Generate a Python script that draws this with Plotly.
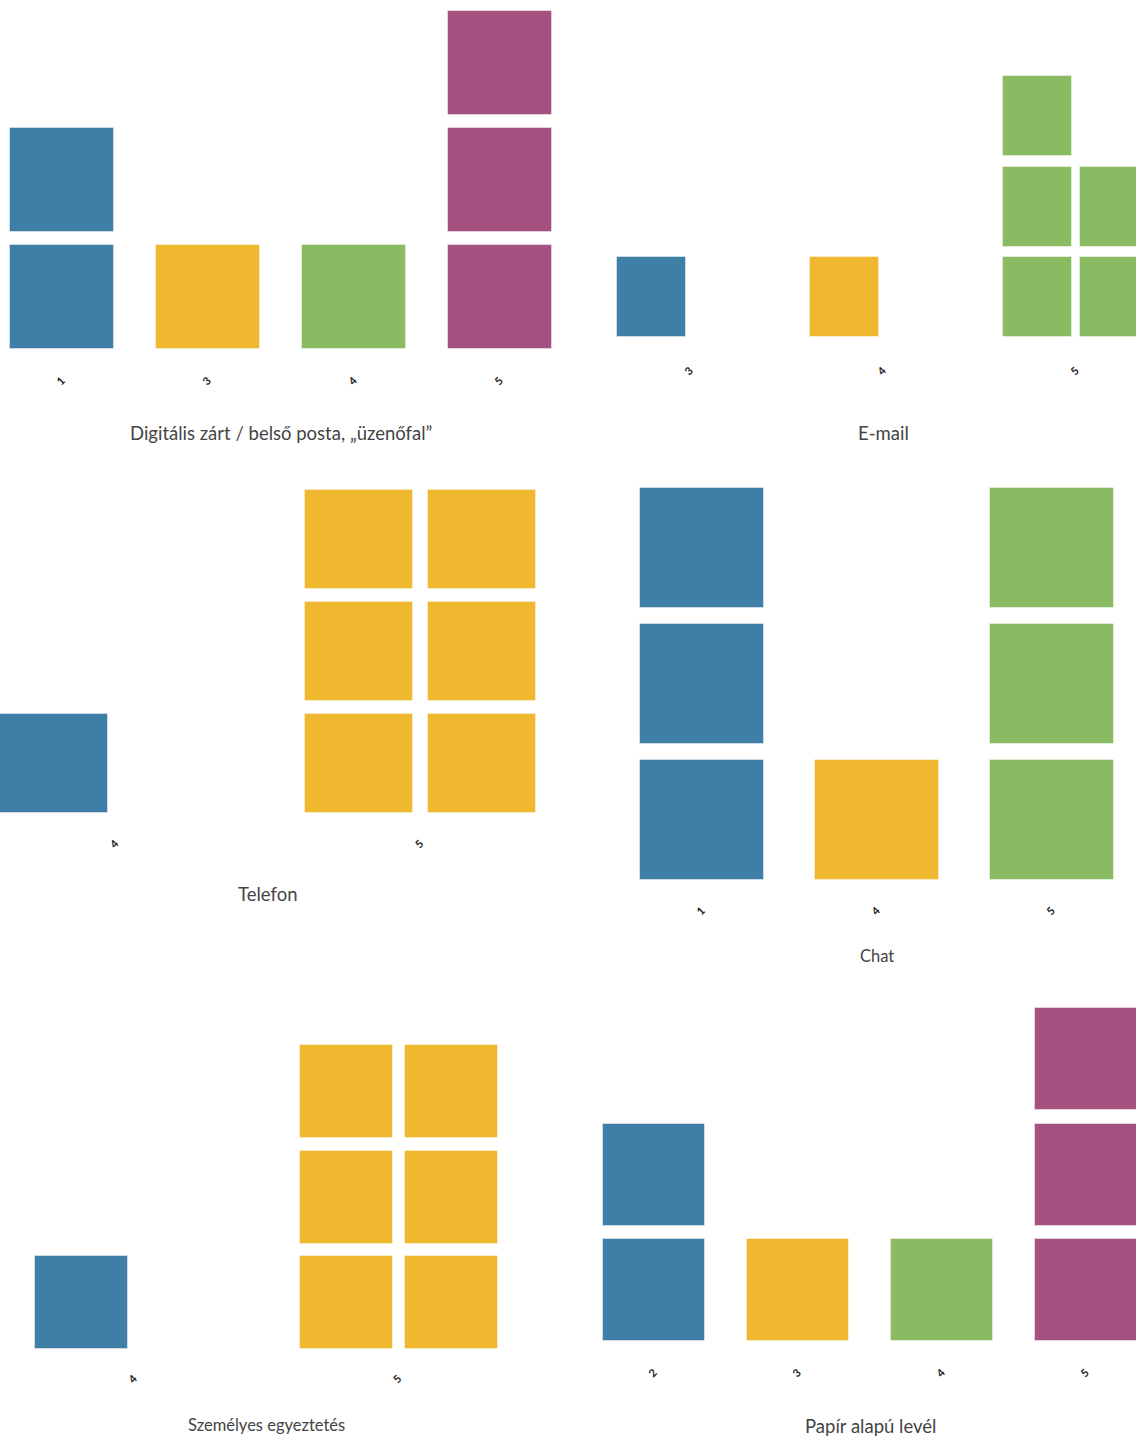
import math
import plotly.graph_objects as go

W, H = 1136, 1436

# ---------------- data ----------------
titles = [
    "Digitális zárt / belső posta, „üzenőfal”",
    "E-mail",
    "Telefon",
    "Chat",
    "Személyes egyeztetés",
    "Papír alapú levél",
]
categories = [
    ["1", "3", "4", "5"],
    ["3", "4", "5"],
    ["4", "5"],
    ["1", "4", "5"],
    ["4", "5"],
    ["2", "3", "4", "5"],
]
counts = [
    [2, 1, 1, 3],
    [1, 1, 5],
    [1, 6],
    [3, 1, 3],
    [1, 6],
    [2, 1, 1, 3],
]
palette = ["#3F7EA6", "#EFB82E", "#8ABB63", "#A45180"]
MAX_ROWS = 3

# ---------------- layout geometry (pixels) ----------------
geom = [
    dict(l=0, r=568, t=0, b=349, c0=62, band=146, sub=0, w=104, h=104, pitch=117, so=22),
    dict(l=568, r=1136, t=0, b=337, c0=690, band=193, sub=77, w=69, h=80, pitch=90.5, so=24),
    dict(l=0, r=568, t=470, b=813, c0=115.5, band=305, sub=123, w=108.5, h=99, pitch=112, so=21),
    dict(l=568, r=1136, t=470, b=880, c0=702, band=175, sub=0, w=124, h=120, pitch=136, so=21),
    dict(l=0, r=568, t=990, b=1349, c0=134, band=264.5, sub=105, w=93, h=93, pitch=105.5, so=20),
    dict(l=568, r=1136, t=990, b=1341, c0=654, band=144, sub=0, w=102, h=102, pitch=115.5, so=22),
]
title_pos = [
    (281, 433, 18.5), (883, 433, 18.5), (267, 894, 18.5),
    (877, 956, 16.5), (266, 1425, 16.5), (870, 1426, 18.5),
]

fig = go.Figure()
layout = dict(
    width=W, height=H, margin=dict(l=0, r=0, t=0, b=0),
    paper_bgcolor="white", plot_bgcolor="white", showlegend=False,
    barmode="overlay", bargap=0,
    font=dict(family="Lato, Open Sans, sans-serif"),
    annotations=[],
)

for p, (cats, cnts, g) in enumerate(zip(categories, counts, geom)):
    sfx = "" if p == 0 else str(p + 1)
    ncols = math.ceil(max(cnts) / MAX_ROWS)
    for i, (cat, n) in enumerate(zip(cats, cnts)):
        xs, bases = [], []
        for k in range(n):
            row, col = divmod(k, ncols)
            xs.append(i + (col - (ncols - 1) / 2) * g["sub"] / g["band"])
            bases.append(row)
        fig.add_trace(go.Bar(
            x=xs, y=[g["h"] / g["pitch"]] * n, base=bases,
            width=g["w"] / g["band"],
            marker=dict(color=palette[i % len(palette)],
                        line=dict(width=1, color="rgba(255,255,255,0.45)")),
            xaxis="x" + sfx, yaxis="y" + sfx, hoverinfo="skip",
        ))
    xr = [(g["l"] - g["c0"]) / g["band"], (g["r"] - g["c0"]) / g["band"]]
    yr = [0, (g["b"] - g["t"]) / g["pitch"]]
    layout["xaxis" + sfx] = dict(
        domain=[g["l"] / W, g["r"] / W], range=xr, anchor="y" + sfx,
        tickvals=list(range(len(cats))), ticktext=cats, tickangle=-45,
        tickfont=dict(size=11, color="#222222", family="Lato, sans-serif",
                      weight="bold"),
        ticklabelstandoff=g["so"], showgrid=False, zeroline=False, showline=False,
        ticks="", fixedrange=True,
    )
    layout["yaxis" + sfx] = dict(
        domain=[1 - g["b"] / H, 1 - g["t"] / H], range=yr, anchor="x" + sfx,
        showticklabels=False, showgrid=False, zeroline=False, showline=False,
        ticks="", fixedrange=True,
    )
    tx, ty, fs = title_pos[p]
    layout["annotations"].append(dict(
        text=titles[p], x=tx / W, y=1 - ty / H, xref="paper", yref="paper",
        xanchor="center", yanchor="middle", showarrow=False,
        font=dict(size=fs, color="#444444"),
    ))

fig.update_layout(**layout)
fig.write_html(
    "out.html",
    config={"displayModeBar": False},
    post_script="document.body.style.margin='0';document.body.style.overflow='hidden';",
)
